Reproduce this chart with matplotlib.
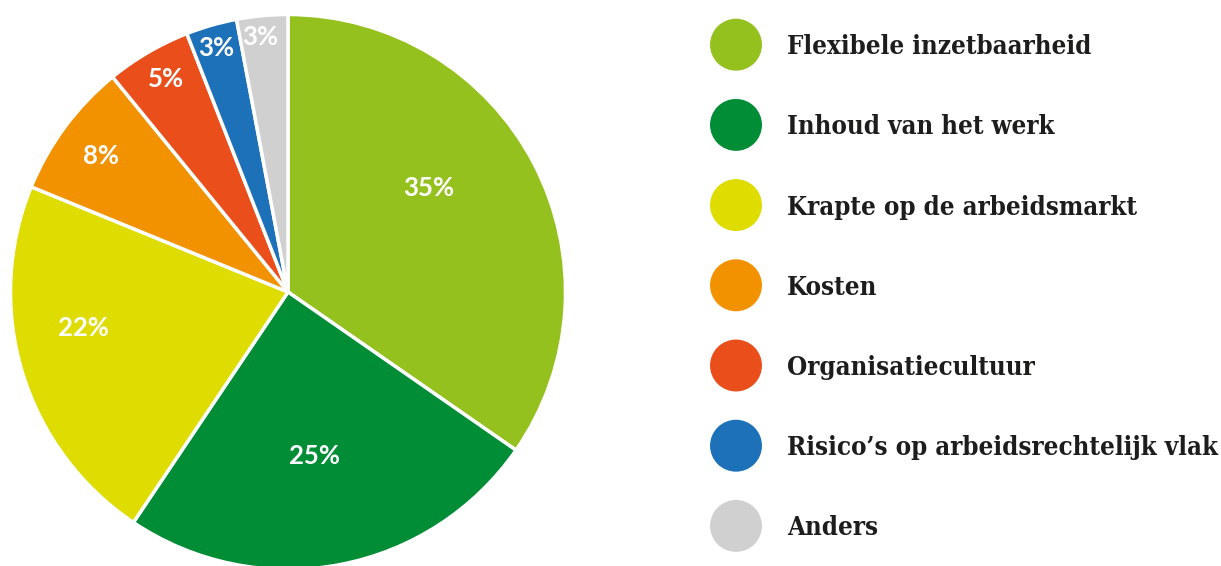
import matplotlib
matplotlib.use("Agg")
import matplotlib.pyplot as plt
import numpy as np
from matplotlib import transforms

# ---- data ----
categories = [
    "Flexibele inzetbaarheid",
    "Inhoud van het werk",
    "Krapte op de arbeidsmarkt",
    "Kosten",
    "Organisatiecultuur",
    "Risico’s op arbeidsrechtelijk vlak",
    "Anders",
]
values = [35, 25, 22, 8, 5, 3, 3]
pct_labels = ["35%", "25%", "22%", "8%", "5%", "3%", "3%"]

# ---- style ----
colors = ["#95C11F", "#008D36", "#DEDC00", "#F39200", "#E94E1B", "#1D71B8", "#D0D0D0"]
label_radius = [0.63, 0.597, 0.747, 0.833, 0.885, 0.915, 0.925]
label_angle_shift = [9.0, -1.5, -7.0, 0.5, -0.6, 0.4, 0.9]

W, H = 1221, 566
fig = plt.figure(figsize=(W / 100, H / 100), dpi=100)

# pie axes: centre (288, 292) px from top-left, radius 277.5 px
cx, cy, r = 288, 292, 277.5
ax = fig.add_axes([(cx - r) / W, (H - cy - r) / H, 2 * r / W, 2 * r / H])
wedges, _ = ax.pie(values, colors=colors, startangle=90, counterclock=False,
                   radius=1.0, wedgeprops=dict(edgecolor="white", linewidth=2.5))
ax.set_xlim(-1, 1)
ax.set_ylim(-1, 1)
ax.set_aspect("equal")
ax.axis("off")

for w, txt, rr, da in zip(wedges, pct_labels, label_radius, label_angle_shift):
    mid = 0.5 * (w.theta1 + w.theta2) + da
    x = rr * np.cos(np.deg2rad(mid))
    y = rr * np.sin(np.deg2rad(mid))
    ax.text(x, y, txt, ha="center", va="center", color="white",
            fontsize=18.5, fontweight="bold", family=["Lato", "DejaVu Sans"])

# legend axes (right part), y in row indices
lx0 = 700
lax = fig.add_axes([lx0 / W, 0, (W - lx0) / W, 1])
row_top, row_step = 44.7, 80.2
lax.set_xlim(0, W - lx0)
lax.set_ylim((H - row_top) / row_step, -row_top / row_step)
lax.axis("off")
rows = np.arange(len(categories))
lax.scatter(np.full(len(rows), 36), rows, s=37.4 ** 2, c=colors, linewidths=0)
off = transforms.offset_copy(lax.transData, fig=fig, x=0, y=-9.5, units="dots")
for i, name in zip(rows, categories):
    lax.text(87, i, name, ha="left", va="baseline", transform=off,
             fontsize=18.5, fontweight="semibold", color="#1d1d1b",
             family=["DejaVu Serif", "DejaVu Sans"], fontstretch="condensed")

fig.savefig("out.png", dpi=100, facecolor="white")
